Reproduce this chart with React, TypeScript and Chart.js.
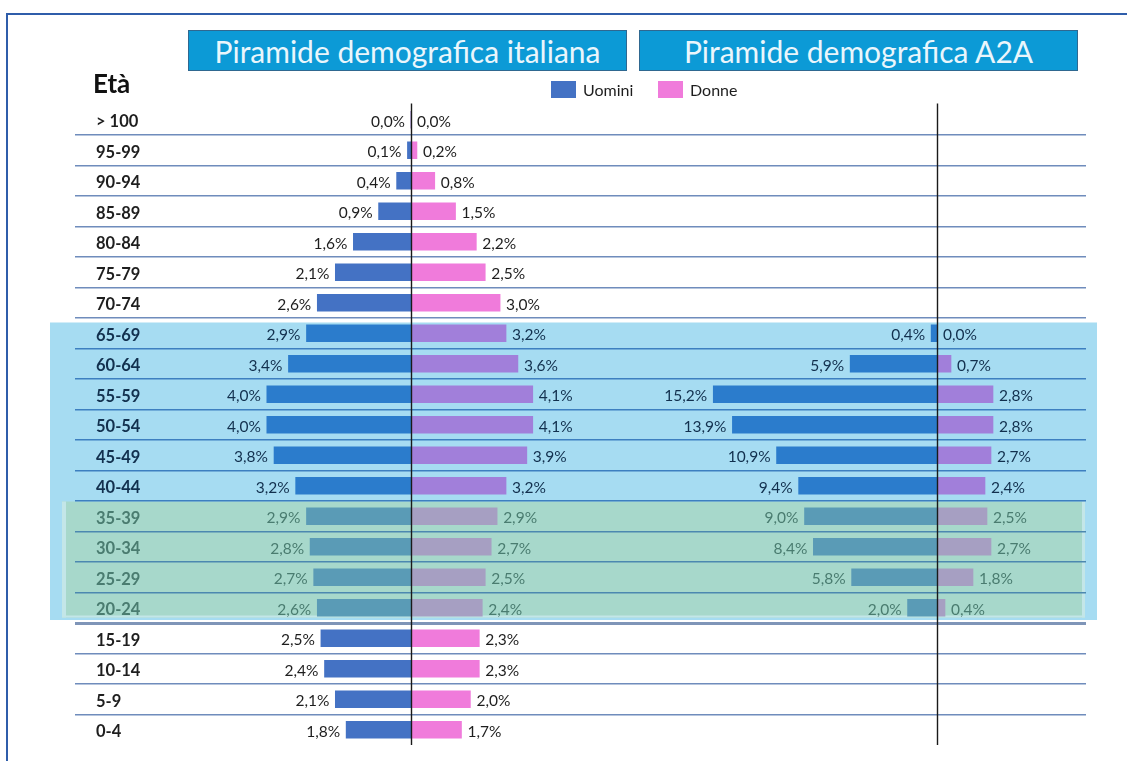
import React, { useEffect, useRef } from "react";
import { Chart, registerables } from "chart.js";

Chart.register(...registerables);

const ageGroups = [
  "> 100", "95-99", "90-94", "85-89", "80-84", "75-79", "70-74",
  "65-69", "60-64", "55-59", "50-54", "45-49", "40-44",
  "35-39", "30-34", "25-29", "20-24",
  "15-19", "10-14", "5-9", "0-4",
];

const italyMen = [0.0, 0.1, 0.4, 0.9, 1.6, 2.1, 2.6, 2.9, 3.4, 4.0, 4.0, 3.8, 3.2, 2.9, 2.8, 2.7, 2.6, 2.5, 2.4, 2.1, 1.8];
const italyWomen = [0.0, 0.2, 0.8, 1.5, 2.2, 2.5, 3.0, 3.2, 3.6, 4.1, 4.1, 3.9, 3.2, 2.9, 2.7, 2.5, 2.4, 2.3, 2.3, 2.0, 1.7];
const a2aMen = [null, null, null, null, null, null, null, 0.4, 5.9, 15.2, 13.9, 10.9, 9.4, 9.0, 8.4, 5.8, 2.0, null, null, null, null];
const a2aWomen = [null, null, null, null, null, null, null, 0.0, 0.7, 2.8, 2.8, 2.7, 2.4, 2.5, 2.7, 1.8, 0.4, null, null, null, null];

const seriesNames = ["Uomini", "Donne"];
const panelTitles = ["Piramide demografica italiana", "Piramide demografica A2A"];
const axisTitle = "Età";

// highlighted row ranges (indices into ageGroups)
const BLUE_FROM = 7, BLUE_TO = 12;
const GREEN_FROM = 13, GREEN_TO = 16;

type Region = "none" | "blue" | "green";
const regionOf = (i: number): Region =>
  i >= GREEN_FROM && i <= GREEN_TO ? "green" : i >= BLUE_FROM && i <= BLUE_TO ? "blue" : "none";

const MEN = { none: "#4472C4", blue: "#2B7CCC", green: "#5A9BB6" };
const WOMEN = { none: "#F07BDB", blue: "#A17FDA", green: "#A69FC2" };
const TEXT = { none: "#1E1E1E", blue: "#12304E", green: "#4A7C70" };
const FONT = "Lato, 'Open Sans', sans-serif";

const fmt = (v: number) => v.toFixed(1).replace(".", ",") + "%";

const regionPlugin = {
  id: "regions",
  beforeDraw(chart: any) {
    const { ctx, chartArea } = chart;
    const y = chart.scales.y;
    const rowH = y.getPixelForValue(1) - y.getPixelForValue(0);
    const boundary = (i: number) => y.getPixelForValue(i) - rowH / 2;
    ctx.save();
    // blue band
    const bTop = boundary(BLUE_FROM) + 4.5;
    const bBot = boundary(GREEN_TO + 1) - 3;
    ctx.fillStyle = "#A6DCF2";
    ctx.fillRect(chartArea.left - 25, bTop, chartArea.right + 11 - (chartArea.left - 25), bBot - bTop);
    // green band
    const gTop = boundary(GREEN_FROM) + 0.5;
    const gBot = boundary(GREEN_TO + 1) - 5.5;
    const gL = chartArea.left - 13;
    const gR = chartArea.right - 1;
    ctx.fillStyle = "#A7D8CB";
    ctx.fillRect(gL, gTop, gR - gL, gBot - gTop);
    ctx.fillStyle = "#C3E6E8";
    ctx.fillRect(gL, gTop, 4, gBot - gTop);
    ctx.fillRect(gR - 3, gTop, 3, gBot - gTop);
    ctx.fillRect(gL, gBot - 2, gR - gL, 2);
    ctx.restore();
  },
};

const labelPlugin = {
  id: "valueLabels",
  afterDatasetsDraw(chart: any) {
    const { ctx, chartArea } = chart;
    ctx.save();
    // zero axis lines of both pyramids
    ["xItWomen", "xA2aWomen"].forEach((id) => {
      const px = Math.round(chart.scales[id].getPixelForValue(0)) + 0.5;
      ctx.strokeStyle = "#1A1A1A";
      ctx.lineWidth = 1.4;
      ctx.beginPath();
      ctx.moveTo(px, chartArea.top - 1);
      ctx.lineTo(px, chartArea.bottom);
      ctx.stroke();
    });
    ctx.font = `15.5px ${FONT}`;
    ctx.textBaseline = "middle";
    chart.data.datasets.forEach((ds: any, d: number) => {
      const meta = chart.getDatasetMeta(d);
      const isMen = d % 2 === 0;
      meta.data.forEach((bar: any, i: number) => {
        const v = ds.data[i];
        if (v === null || v === undefined) return;
        const { x, y } = bar.getProps(["x", "y"], true);
        ctx.fillStyle = TEXT[regionOf(i)];
        ctx.textAlign = isMen ? "right" : "left";
        ctx.fillText(fmt(v), isMen ? x - 6 : x + 6, y + 2);
      });
    });
    ctx.restore();
  },
};

const gridColor = (c: any) => {
  const i = c.index;
  if (i === undefined || i === 0) return "rgba(0,0,0,0)";
  if (i >= BLUE_FROM + 1 && i <= GREEN_FROM) return "#3D7FC0";
  if (i > GREEN_FROM && i <= GREEN_TO) return "#4C88B0";
  if (i === GREEN_TO + 1) return "#7F95B8";
  return "#6F8CBC";
};

export default function App() {
  const ref = useRef<HTMLCanvasElement | null>(null);

  useEffect(() => {
    if (!ref.current) return;
    const barOpts = { grouped: false, barThickness: 17, borderWidth: 0 };
    const chart = new Chart(ref.current, {
      type: "bar",
      data: {
        labels: ageGroups,
        datasets: [
          { label: seriesNames[0], data: italyMen, xAxisID: "xItMen", backgroundColor: (c: any) => MEN[regionOf(c.dataIndex)], ...barOpts },
          { label: seriesNames[1], data: italyWomen, xAxisID: "xItWomen", backgroundColor: (c: any) => WOMEN[regionOf(c.dataIndex)], ...barOpts },
          { label: seriesNames[0] + " A2A", data: a2aMen, xAxisID: "xA2aMen", backgroundColor: (c: any) => MEN[regionOf(c.dataIndex)], ...barOpts },
          { label: seriesNames[1] + " A2A", data: a2aWomen, xAxisID: "xA2aWomen", backgroundColor: (c: any) => WOMEN[regionOf(c.dataIndex)], ...barOpts },
        ] as any,
      },
      options: {
        indexAxis: "y",
        animation: false,
        responsive: false,
        maintainAspectRatio: false,
        layout: { padding: { left: 75, right: 41, top: 104.5, bottom: 16 } },
        plugins: {
          legend: { display: false },
          tooltip: { enabled: false },
          title: { display: false },
        },
        scales: {
          y: {
            type: "category",
            position: "left",
            offset: true,
            border: { display: false },
            grid: {
              offset: true,
              drawTicks: false,
              color: gridColor,
              lineWidth: (c: any) => (c.index === GREEN_TO + 1 ? 3 : 1.5),
            },
            ticks: {
              mirror: true,
              padding: 21,
              labelOffset: 2,
              autoSkip: false,
              color: (c: any) => TEXT[regionOf(c.index)],
              font: { family: FONT, size: 16.5, weight: "bold" },
            },
            afterFit: (s: any) => {
              s.width = 0;
              s.paddingTop = 0;
              s.paddingBottom = 0;
              s.paddingLeft = 0;
              s.paddingRight = 0;
            },
          },
          xItMen: { type: "linear", display: false, reverse: true, min: -18.72, max: 9.32 },
          xItWomen: { type: "linear", display: false, min: -11.313, max: 22.727 },
          xA2aMen: { type: "linear", display: false, reverse: true, min: -10.122, max: 58.56 },
          xA2aWomen: { type: "linear", display: false, min: -43.1, max: 7.45 },
        } as any,
      } as any,
      plugins: [regionPlugin, labelPlugin],
    });
    return () => chart.destroy();
  }, []);

  const titleBox = (left: number, text: string) => (
    <div
      style={{
        position: "absolute",
        left,
        top: 30,
        width: 439,
        height: 41,
        boxSizing: "border-box",
        background: "#0C9AD6",
        border: "1px solid #2F6890",
        color: "#EAF6FC",
        font: `30px ${FONT}`,
        display: "flex",
        alignItems: "center",
        justifyContent: "center",
        whiteSpace: "nowrap",
      }}
    >
      {text}
    </div>
  );

  const legendItem = (left: number, color: string, text: string) => (
    <>
      <div style={{ position: "absolute", left, top: 81, width: 25, height: 17, background: color }} />
      <div
        style={{
          position: "absolute",
          left: left + 32,
          top: 80,
          lineHeight: "20px",
          font: `16px ${FONT}`,
          color: "#1E1E1E",
          whiteSpace: "nowrap",
        }}
      >
        {text}
      </div>
    </>
  );

  return (
    <div
      style={{
        position: "absolute",
        left: 0,
        top: 0,
        width: 1127,
        height: 761,
        background: "#FFFFFF",
        overflow: "hidden",
        fontFamily: FONT,
      }}
    >
      <div
        style={{
          position: "absolute",
          left: 6,
          top: 13,
          width: 1300,
          height: 900,
          borderTop: "2px solid #2F5DAA",
          borderLeft: "2px solid #2F5DAA",
        }}
      />
      <canvas
        ref={ref}
        width={1127}
        height={761}
        style={{ position: "absolute", left: 0, top: 0, width: 1127, height: 761 }}
      />
      {titleBox(188, panelTitles[0])}
      {titleBox(639, panelTitles[1])}
      <div
        style={{
          position: "absolute",
          left: 93,
          top: 67,
          lineHeight: "30px",
          font: `bold 26px ${FONT}`,
          color: "#111111",
        }}
      >
        {axisTitle}
      </div>
      {legendItem(551, "#4472C4", seriesNames[0])}
      {legendItem(658, "#F07BDB", seriesNames[1])}
    </div>
  );
}
